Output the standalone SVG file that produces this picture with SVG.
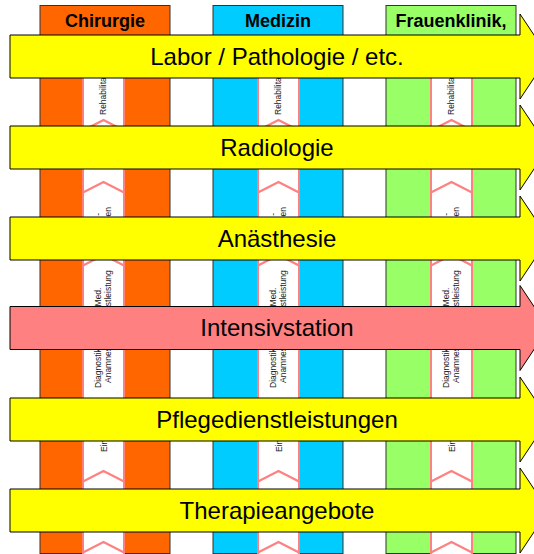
<svg xmlns="http://www.w3.org/2000/svg" width="534" height="554" viewBox="0 0 534 554">
<style>
.col{stroke:#333;stroke-width:1}
.hdr{font-family:"Liberation Sans",Arial,sans-serif;font-weight:bold;font-size:18px;text-anchor:middle;fill:#000}
.strip{fill:#fff}
.side{stroke:#FF8080;stroke-width:2;fill:none}
.chev{stroke:#FF8080;stroke-width:2.2;fill:none}
.st{font-family:"Liberation Sans",Arial,sans-serif;font-size:8.5px;fill:#222}
.arr{stroke:#000;stroke-width:1}
.y{fill:#FFFF00}
.p{fill:#FF8080}
.at{font-family:"Liberation Sans",Arial,sans-serif;font-size:24px;text-anchor:middle;fill:#000}
</style>
<rect width="534" height="554" fill="#fff"/>

<g id="col-chirurgie">
<rect class="col" x="40" y="5.5" width="130" height="548" fill="#FF6600"/>
<text class="hdr" x="105" y="26.5">Chirurgie</text>
<rect class="strip" x="83" y="45" width="41" height="515"/>
<path class="side" d="M83,45V560M124,45V560"/>
<path class="chev" d="M83,130.5L103.5,120L124,130.5M83,192.5L103.5,182L124,192.5M83,265.5L103.5,255L124,265.5M83,339.5L103.5,329L124,339.5M83,410.5L103.5,400L124,410.5M83,481.5L103.5,471L124,481.5M83,552.5L103.5,542L124,552.5"/>
<text class="st" x="106" y="115" transform="rotate(-90 106 115)">Rehabilitation</text>
<text class="st" x="100.5" y="213" text-anchor="end" transform="rotate(-90 100.5 213)">-</text>
<text class="st" x="111" y="207" text-anchor="end" transform="rotate(-90 111 207)">en</text>
<text class="st" x="100.5" y="297" text-anchor="middle" transform="rotate(-90 100.5 297)">Med.</text>
<text class="st" x="111" y="297" text-anchor="middle" transform="rotate(-90 111 297)">Dienstleistung</text>
<text class="st" x="100.5" y="388" transform="rotate(-90 100.5 388)">Diagnostik</text>
<text class="st" x="111" y="383" transform="rotate(-90 111 383)">Anamnese</text>
<text class="st" x="106.5" y="452" transform="rotate(-90 106.5 452)">Einweisung</text>
</g>

<g id="col-medizin">
<rect class="col" x="213" y="5.5" width="130" height="548" fill="#00CCFF"/>
<text class="hdr" x="278" y="26.5">Medizin</text>
<rect class="strip" x="258" y="45" width="41" height="515"/>
<path class="side" d="M258,45V560M299,45V560"/>
<path class="chev" d="M258,130.5L278.5,120L299,130.5M258,192.5L278.5,182L299,192.5M258,265.5L278.5,255L299,265.5M258,339.5L278.5,329L299,339.5M258,410.5L278.5,400L299,410.5M258,481.5L278.5,471L299,481.5M258,552.5L278.5,542L299,552.5"/>
<text class="st" x="281" y="115" transform="rotate(-90 281 115)">Rehabilitation</text>
<text class="st" x="275.5" y="213" text-anchor="end" transform="rotate(-90 275.5 213)">-</text>
<text class="st" x="286" y="207" text-anchor="end" transform="rotate(-90 286 207)">en</text>
<text class="st" x="275.5" y="297" text-anchor="middle" transform="rotate(-90 275.5 297)">Med.</text>
<text class="st" x="286" y="297" text-anchor="middle" transform="rotate(-90 286 297)">Dienstleistung</text>
<text class="st" x="275.5" y="388" transform="rotate(-90 275.5 388)">Diagnostik</text>
<text class="st" x="286" y="383" transform="rotate(-90 286 383)">Anamnese</text>
<text class="st" x="281.5" y="452" transform="rotate(-90 281.5 452)">Einweisung</text>
</g>

<g id="col-frauenklinik">
<rect class="col" x="386" y="5.5" width="130" height="548" fill="#99FF66"/>
<text class="hdr" x="451" y="26.5">Frauenklinik,</text>
<rect class="strip" x="431" y="45" width="41" height="515"/>
<path class="side" d="M431,45V560M472,45V560"/>
<path class="chev" d="M431,130.5L451.5,120L472,130.5M431,192.5L451.5,182L472,192.5M431,265.5L451.5,255L472,265.5M431,339.5L451.5,329L472,339.5M431,410.5L451.5,400L472,410.5M431,481.5L451.5,471L472,481.5M431,552.5L451.5,542L472,552.5"/>
<text class="st" x="454" y="115" transform="rotate(-90 454 115)">Rehabilitation</text>
<text class="st" x="448.5" y="213" text-anchor="end" transform="rotate(-90 448.5 213)">-</text>
<text class="st" x="459" y="207" text-anchor="end" transform="rotate(-90 459 207)">en</text>
<text class="st" x="448.5" y="297" text-anchor="middle" transform="rotate(-90 448.5 297)">Med.</text>
<text class="st" x="459" y="297" text-anchor="middle" transform="rotate(-90 459 297)">Dienstleistung</text>
<text class="st" x="448.5" y="388" transform="rotate(-90 448.5 388)">Diagnostik</text>
<text class="st" x="459" y="383" transform="rotate(-90 459 383)">Anamnese</text>
<text class="st" x="454.5" y="452" transform="rotate(-90 454.5 452)">Einweisung</text>
</g>

<g id="arrow-labor">
<path class="arr y" d="M10,35H520V14L548.3,56.5L520,99V78H10Z"/>
<text class="at" x="277" y="64.5">Labor / Pathologie / etc.</text>
</g>
<g id="arrow-radiologie">
<path class="arr y" d="M10,126H520V105L548.3,147.5L520,190V169H10Z"/>
<text class="at" x="277" y="155.5">Radiologie</text>
</g>
<g id="arrow-anaesthesie">
<path class="arr y" d="M10,217H520V196L548.3,238.5L520,281V260H10Z"/>
<text class="at" x="277" y="246.5">Anästhesie</text>
</g>
<g id="arrow-intensivstation">
<path class="arr p" d="M10,306.5H520V285.5L548.3,328L520,370.5V349.5H10Z"/>
<text class="at" x="277" y="336">Intensivstation</text>
</g>
<g id="arrow-pflege">
<path class="arr y" d="M10,398H520V377L548.3,419.5L520,462V441H10Z"/>
<text class="at" x="277" y="427.5">Pflegedienstleistungen</text>
</g>
<g id="arrow-therapie">
<path class="arr y" d="M10,489H520V468L548.3,510.5L520,553V532H10Z"/>
<text class="at" x="277" y="518.5">Therapieangebote</text>
</g>
</svg>
